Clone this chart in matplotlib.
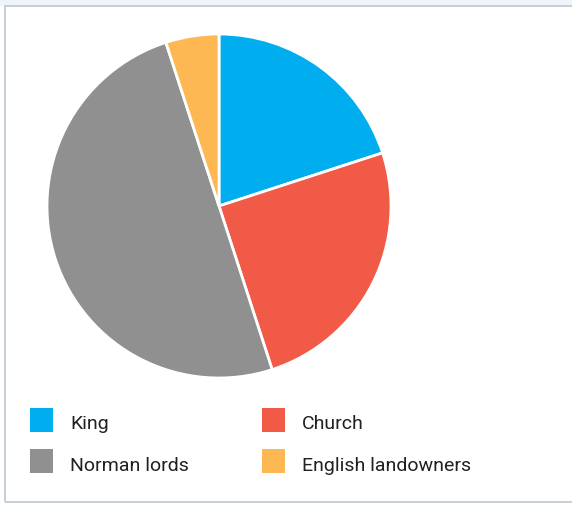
import matplotlib
matplotlib.use("Agg")
import matplotlib.pyplot as plt
from matplotlib.patches import Rectangle

categories = ["King", "Church", "Norman lords", "English landowners"]
values = [20, 25, 50, 5]
colors = ["#00AEEF", "#F15A47", "#8F908F", "#FDB854"]

W, H = 572, 510
fig = plt.figure(figsize=(W / 100, H / 100), dpi=100)
ax = fig.add_axes([0, 0, 1, 1])

ax.pie(values, colors=colors, startangle=90, counterclock=False,
       center=(219, H - 207), radius=172,
       wedgeprops=dict(edgecolor="white", linewidth=2))

ax.set_xlim(0, W)
ax.set_ylim(0, H)
ax.set_aspect("auto")
ax.axis("off")

# light tinted strip above the frame
ax.add_patch(Rectangle((0, H - 7), W, 7, facecolor="#EEF4F9", edgecolor="none"))
# outer frame
ax.add_patch(Rectangle((5, H - 503), 600, 496, fill=False,
                       edgecolor="#C3CBD3", linewidth=1.3))

# legend (2 columns)
legend_pos = [(30, 409, 429), (262, 409, 429), (30, 450, 471), (262, 450, 471)]
font = ["Roboto", "DejaVu Sans"]
for (lx, ly, base), label, c in zip(legend_pos, categories, colors):
    ax.add_patch(Rectangle((lx, H - ly - 24), 23, 24, facecolor=c, edgecolor="none"))
    ax.text(lx + 40, H - base, label, fontsize=14, family=font,
            color="#231F20", va="baseline", ha="left")

fig.savefig("out.png", dpi=100)
